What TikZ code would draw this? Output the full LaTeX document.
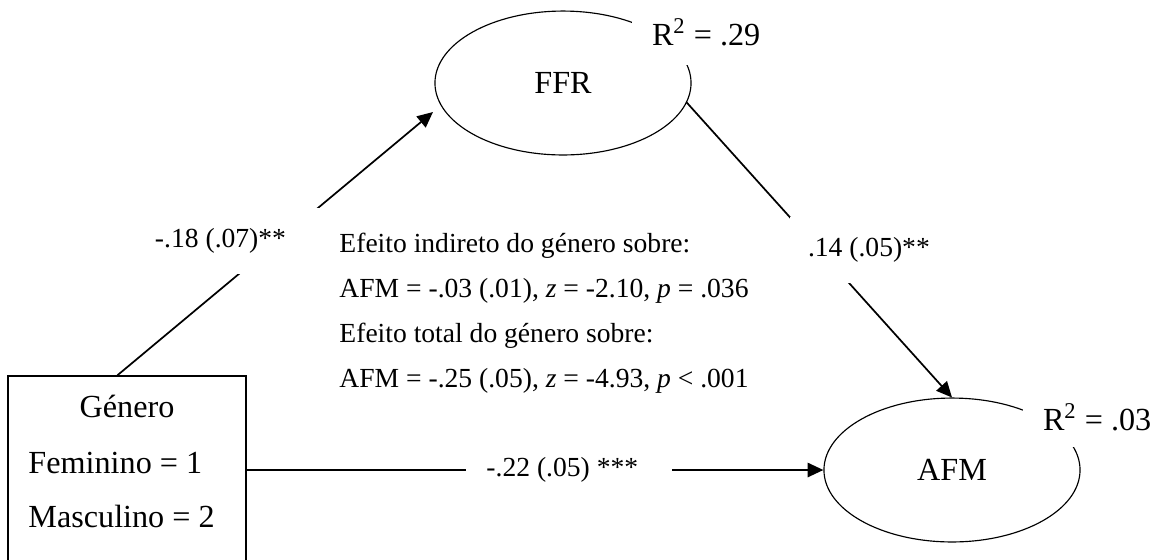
\documentclass[tikz,border=0pt]{standalone}
\usepackage{fontspec}
\setmainfont{Liberation Serif}
\usetikzlibrary{arrows.meta,shapes.geometric}
\begin{document}
\begin{tikzpicture}[x=0.435pt,y=-0.435pt,
  latent/.style={draw,ellipse,line width=0.5pt,minimum width=111.4pt,minimum height=62.6pt,inner sep=0pt,font=\fontsize{14}{17}\selectfont},
  obsbox/.style={draw,rectangle,line width=0.6pt,minimum width=103.5pt,minimum height=88.7pt,inner sep=0pt},
  bigtxt/.style={font=\fontsize{14}{17}\selectfont,inner sep=0pt},
  smalltxt/.style={font=\fontsize{12}{14}\selectfont,inner sep=0pt},
  conn/.style={line width=0.75pt},
  arr/.style={conn,-{Triangle[length=6.8pt,width=6.2pt]}},
  lab/.style={fill=white,font=\fontsize{12}{14}\selectfont,align=flush left,inner ysep=0pt},
  rlab/.style={fill=white,font=\fontsize{14}{17}\selectfont,align=flush left,inner ysep=0pt,text width=52.2pt,inner xsep=8.7pt},
]
\useasboundingbox (0,0) rectangle (1155,559);
\clip (0,0) rectangle (1155,559);

% nodes
\node[obsbox] (gen) at (127,478) {};
\node[bigtxt,anchor=base] (tg) at (127,417) {Género};
\node[bigtxt,anchor=base west] (tf) at (28,473) {Feminino = 1};
\node[bigtxt,anchor=base west] (tm) at (28,527) {Masculino = 2};

\node[latent] (ffr) at (563,83) {FFR};
\node[latent] (afm) at (952,470) {AFM};

\coordinate (t1) at (433,112);

% connectors
\draw[arr] ([xshift=47.85pt]gen.north west) -- (t1);
\draw[arr] (ffr.-9) -- (afm.north);
\draw[arr] (gen.east |- afm.west) -- (afm.west);

% labels (white boxes over lines)
\node[lab,text width=69.6pt,inner xsep=4.35pt,minimum height=28.7pt] (l1) at (235,241) {-.18 (.07)**};
\node[lab,text width=56.55pt,inner xsep=7.83pt,minimum height=29.1pt] (l2) at (873,250) {.14 (.05)**};
\node[lab,text width=71.8pt,inner xsep=8.7pt,minimum height=17.4pt] (l3) at (569,470) {-.22 (.05) ***};

\node[rlab,minimum height=28.7pt] (r1) at (712,32) {R\textsuperscript{2} = .29};
\node[rlab,minimum height=26.1pt] (r2) at (1103,417) {R\textsuperscript{2} = .03};

% info text
\node[smalltxt,anchor=base west] (i1) at (339,252) {Efeito indireto do género sobre:};
\node[smalltxt,anchor=base west] (i2) at (339,297) {AFM = -.03 (.01), \textit{z} = -2.10, \textit{p} = .036};
\node[smalltxt,anchor=base west] (i3) at (339,342) {Efeito total do género sobre:};
\node[smalltxt,anchor=base west] (i4) at (339,387) {AFM = -.25 (.05), \textit{z} = -4.93, \textit{p} < .001};
\end{tikzpicture}
\end{document}
